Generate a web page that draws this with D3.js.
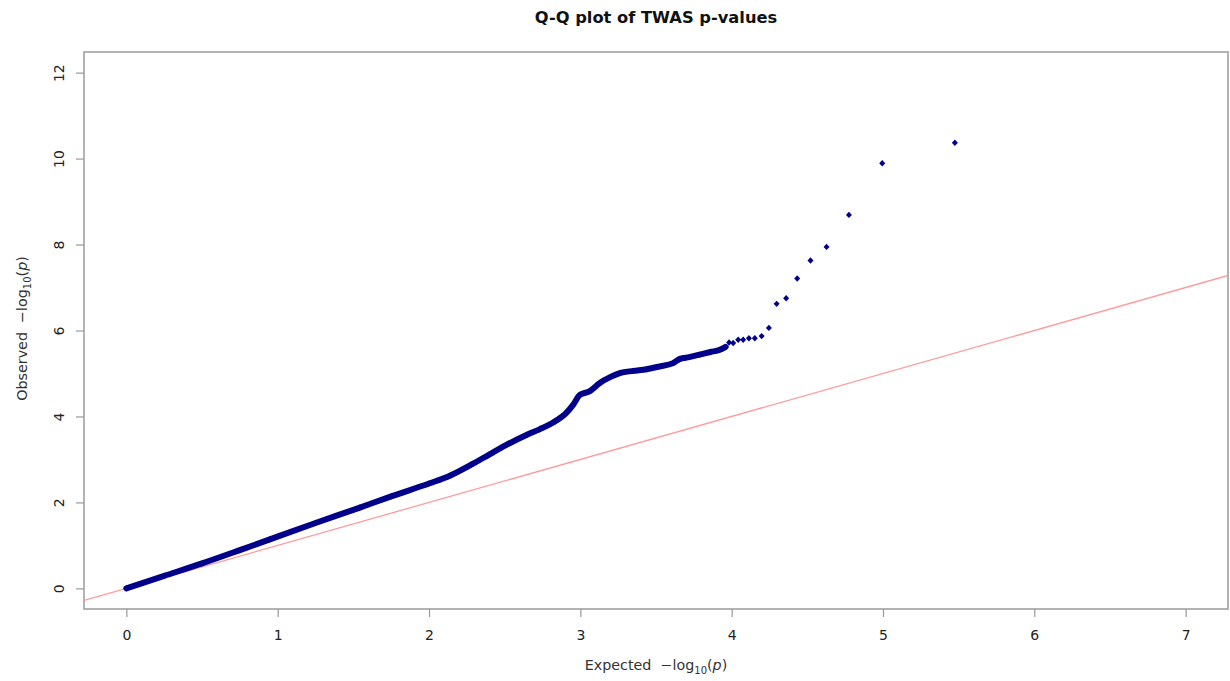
<!DOCTYPE html>
<html>
<head>
<meta charset="utf-8">
<script src="https://cdn.jsdelivr.net/npm/d3@7"></script>
<style>
  body { margin: 0; background: #fff; }
  svg { font-family: "DejaVu Sans", sans-serif; }
</style>
</head>
<body>
<div id="chart"></div>
<script>
// dense part of the curve (points overlap into a band)
const dense_expected = [0, 0.25, 0.5, 0.75, 0.948, 1.25, 1.543, 1.75, 2.0, 2.138, 2.291, 2.4, 2.512, 2.644, 2.73, 2.82, 2.909, 2.952, 2.997, 3.063, 3.129, 3.2, 3.261, 3.35, 3.438, 3.52, 3.613, 3.658, 3.72, 3.79, 3.86, 3.922, 3.96];
const dense_observed = [0, 0.29, 0.58, 0.89, 1.14, 1.52, 1.88, 2.14, 2.44, 2.62, 2.9, 3.12, 3.34, 3.57, 3.7, 3.86, 4.09, 4.27, 4.5, 4.59, 4.78, 4.92, 5.01, 5.06, 5.1, 5.16, 5.24, 5.34, 5.38, 5.44, 5.5, 5.55, 5.62];

// separate points in the upper tail
const tail_expected = [5.475, 4.995, 4.775, 4.627, 4.521, 4.433, 4.36, 4.297, 4.246, 4.198, 4.153, 4.114, 4.076, 4.043, 4.01, 3.983];
const tail_observed = [10.37, 9.89, 8.69, 7.945, 7.63, 7.21, 6.75, 6.62, 6.06, 5.87, 5.82, 5.82, 5.785, 5.785, 5.71, 5.72];

const x_ticks = [0, 1, 2, 3, 4, 5, 6, 7];
const y_ticks = [0, 2, 4, 6, 8, 10, 12];

const width = 1230, height = 681;
const box = {left: 84, right: 1228, top: 52, bottom: 609};
const point_color = "#00008b";

function add_svg(wrapper)
{
  var svg = d3.select(wrapper).select("svg");
  if (svg.empty())
    svg = d3.select(wrapper).append("svg");
  else
    svg.selectAll("*").remove();
  return svg.attr("width", width).attr("height", height);
}

// R style "-log10(p)" label
function log_label(sel, prefix)
{
  sel.append("tspan").text(prefix + "\u00a0\u00a0\u2212log");
  sel.append("tspan").attr("font-size", "10px").attr("dy", 4).text("10");
  sel.append("tspan").attr("dy", -4).text("(");
  sel.append("tspan").attr("font-style", "italic").text("p");
  sel.append("tspan").text(")");
}

function draw_qq(wrapper)
{
  let svg = add_svg(wrapper);

  // R pads the limits by 4%
  const x = d3.scaleLinear().domain([-0.28, 7.28]).range([box.left, box.right]);
  const y = d3.scaleLinear().domain([-0.48, 12.48]).range([box.bottom, box.top]);

  svg.append("defs").append("clipPath").attr("id", "plotclip")
    .append("rect")
    .attr("x", box.left).attr("y", box.top)
    .attr("width", box.right - box.left).attr("height", box.bottom - box.top);

  // title
  svg.append("text")
    .attr("x", (box.left + box.right) / 2)
    .attr("y", 23)
    .attr("text-anchor", "middle")
    .attr("font-weight", "bold")
    .attr("font-size", "16.3px")
    .attr("fill", "#111")
    .text("Q-Q plot of TWAS p-values");

  // x axis
  let xa = svg.append("g")
    .attr("transform", "translate(0," + box.bottom + ")")
    .call(d3.axisBottom(x).tickValues(x_ticks).tickSize(8).tickPadding(13).tickFormat(d3.format("d")));
  xa.select(".domain").remove();
  xa.selectAll("line").attr("stroke", "#999").attr("stroke-width", 1.2);
  xa.selectAll("text").attr("font-size", "14px").attr("fill", "#222").attr("font-family", "DejaVu Sans");

  // y axis, labels turned like R's las=0
  let ya = svg.append("g")
    .attr("transform", "translate(" + box.left + ",0)")
    .call(d3.axisLeft(y).tickValues(y_ticks).tickSize(8).tickFormat(d3.format("d")));
  ya.select(".domain").remove();
  ya.selectAll("line").attr("stroke", "#999").attr("stroke-width", 1.2);
  ya.selectAll("text")
    .attr("x", null).attr("dy", null)
    .attr("text-anchor", "middle")
    .attr("transform", "translate(-20,0) rotate(-90)")
    .attr("font-size", "14px").attr("fill", "#222").attr("font-family", "DejaVu Sans");

  // box
  svg.append("rect")
    .attr("x", box.left).attr("y", box.top)
    .attr("width", box.right - box.left).attr("height", box.bottom - box.top)
    .attr("fill", "none")
    .attr("stroke", "#9a9a9a")
    .attr("stroke-width", 1.5);

  // axis labels
  svg.append("text")
    .attr("x", (box.left + box.right) / 2)
    .attr("y", 670)
    .attr("text-anchor", "middle")
    .attr("font-size", "14.3px")
    .attr("fill", "#333")
    .call(log_label, "Expected");

  svg.append("text")
    .attr("transform", "translate(27," + ((box.top + box.bottom) / 2 - 2) + ") rotate(-90)")
    .attr("text-anchor", "middle")
    .attr("font-size", "14.3px")
    .attr("fill", "#333")
    .call(log_label, "Observed");

  let plot = svg.append("g").attr("clip-path", "url(#plotclip)");

  // y = x reference line
  plot.append("line")
    .attr("x1", x(-0.28)).attr("y1", y(-0.28))
    .attr("x2", x(7.28)).attr("y2", y(7.28))
    .attr("stroke", "#ff9a9a")
    .attr("stroke-width", 1.3);

  const dense = dense_expected.map((d, i) => ({e: d, o: dense_observed[i]}));
  const tail = tail_expected.map((d, i) => ({e: d, o: tail_observed[i]}));

  // overlapping markers form a thick band
  plot.append("path")
    .datum(dense)
    .attr("fill", "none")
    .attr("stroke", point_color)
    .attr("stroke-width", 6)
    .attr("stroke-linecap", "round")
    .attr("stroke-linejoin", "round")
    .attr("d", d3.line().x(d => x(d.e)).y(d => y(d.o)).curve(d3.curveMonotoneX));

  const diamond = "M0,-3.2L3,0L0,3.2L-3,0Z";
  plot.selectAll(".pt")
    .data(dense.concat(tail))
    .enter()
    .append("path")
    .attr("class", "pt")
    .attr("d", diamond)
    .attr("transform", d => "translate(" + x(d.e) + "," + y(d.o) + ")")
    .attr("fill", point_color);
}

draw_qq("#chart");
</script>
</body>
</html>
